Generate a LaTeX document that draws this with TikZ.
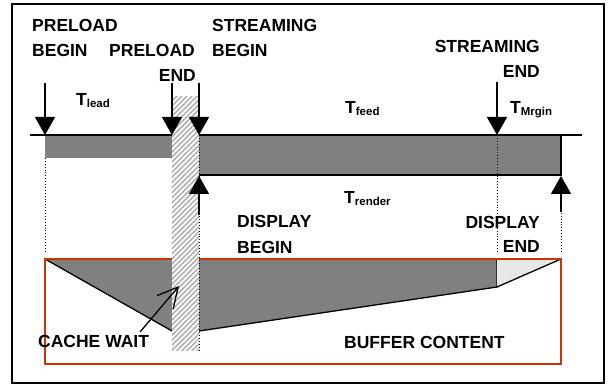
\documentclass[tikz,border=0pt]{standalone}
\usepackage{fontspec}
\setmainfont{Liberation Sans}
\usetikzlibrary{arrows.meta,patterns.meta}
\definecolor{bargray}{HTML}{808080}
\definecolor{lightfill}{HTML}{E8E8E8}
\definecolor{boxred}{HTML}{CC3300}
\definecolor{hatchgray}{HTML}{B0B0B0}
\newcommand{\Tsub}[1]{T{\fontsize{11.5}{11.5}\selectfont\raisebox{-2pt}{#1}}}
\begin{document}
\begin{tikzpicture}[x=1pt,y=-1pt,
  lbl/.style={inner sep=0pt, font=\fontsize{17.5}{17.5}\selectfont\bfseries},
  bigarrow/.style={line width=1.4pt, -{Triangle[length=18pt,width=20pt]}},
  dotline/.style={line width=0.9pt, dotted},
  edgeline/.style={line width=1.3pt, black}]
\useasboundingbox (0,0) rectangle (611,385);
% outer frame
\draw[line width=1.5pt] (12,4) rectangle (604,383);

% bars
\fill[bargray] (45,135) rectangle (172,158);
\fill[bargray] (199,135) rectangle (561,175);
\draw[edgeline] (199,175) -- (561,175) -- (561,135);

% buffer content shapes
\fill[bargray] (45,259) -- (172,259) -- (172,331) -- cycle;
\draw[edgeline] (45,259) -- (172,331);
\fill[bargray] (199,259) -- (497,259) -- (497,287) -- (199,331) -- cycle;
\draw[edgeline] (199,331) -- (497,287) -- (497,259);
\fill[lightfill] (497,259) -- (561,259) -- (497,287) -- cycle;
\draw[edgeline] (497,287) -- (561,259);

% timeline
\draw[line width=1.3pt] (30,135) -- (582,135);

% buffer box
\draw[boxred, line width=1.3pt] (45,259) rectangle (561,364);

% hatched cache-wait column
\fill[white] (172,97) rectangle (199,350);
\fill[pattern={Lines[angle=45,distance=3.6pt,line width=1.6pt]}, pattern color=hatchgray]
  (172,97) rectangle (199,350);

% dotted guides
\draw[dotline] (45,158) -- (45,252);
\draw[dotline] (199,135) -- (199,350);
\draw[dotline] (497,135) -- (497,252);
\draw[dotline] (561,210) -- (561,252);

% arrows
\coordinate (pbS) at (45,83);   \coordinate (pbE) at (45,135);
\coordinate (peS) at (172,83);  \coordinate (peE) at (172,135);
\coordinate (sbS) at (199,83);  \coordinate (sbE) at (199,135);
\coordinate (seS) at (497,82);  \coordinate (seE) at (497,135);
\coordinate (dbS) at (199,215); \coordinate (dbE) at (199,176);
\coordinate (deS) at (561,212); \coordinate (deE) at (561,176);
\draw[bigarrow] (pbS) -- (pbE);
\draw[bigarrow] (peS) -- (peE);
\draw[bigarrow] (sbS) -- (sbE);
\draw[bigarrow] (seS) -- (seE);
\draw[bigarrow] (dbS) -- (dbE);
\draw[bigarrow] (deS) -- (deE);

% labels
\node[lbl, anchor=base west] (pb1) at (32,32) {PRELOAD};
\node[lbl, anchor=base west] (pb2) at (32,57) {BEGIN};
\node[lbl, anchor=base east] (pe1) at (195,57) {PRELOAD};
\node[lbl, anchor=base east] (pe2) at (196,82) {END};
\node[lbl, anchor=base west] (sb1) at (212,32) {STREAMING};
\node[lbl, anchor=base west] (sb2) at (212,57) {BEGIN};
\node[lbl, anchor=base east] (se1) at (540,53) {STREAMING};
\node[lbl, anchor=base east] (se2) at (540,78) {END};
\node[lbl, anchor=base west] (db1) at (237,228) {DISPLAY};
\node[lbl, anchor=base west] (db2) at (237,253) {BEGIN};
\node[lbl, anchor=base east] (de1) at (540,229) {DISPLAY};
\node[lbl, anchor=base east] (de2) at (540,252) {END};
\node[lbl, anchor=base west] (tl) at (76,106) {\Tsub{lead}};
\node[lbl, anchor=base west] (tf) at (345,114) {\Tsub{feed}};
\node[lbl, anchor=base west] (tm) at (510,114) {\Tsub{Mrgin}};
\node[lbl, anchor=base west] (tr) at (344,204) {\Tsub{render}};
\node[lbl, anchor=base west] (cw) at (38,347) {CACHE WAIT};
\node[lbl, anchor=base west] (bc) at (344,348) {BUFFER CONTENT};

% cache wait pointer
\coordinate (cwS) at (140,332);
\coordinate (cwE) at (179,286);
\draw[line width=1.3pt, -{Straight Barb[length=20pt,width=21pt,line width=1.3pt]}] (cwS) -- (cwE);
\end{tikzpicture}
\end{document}
